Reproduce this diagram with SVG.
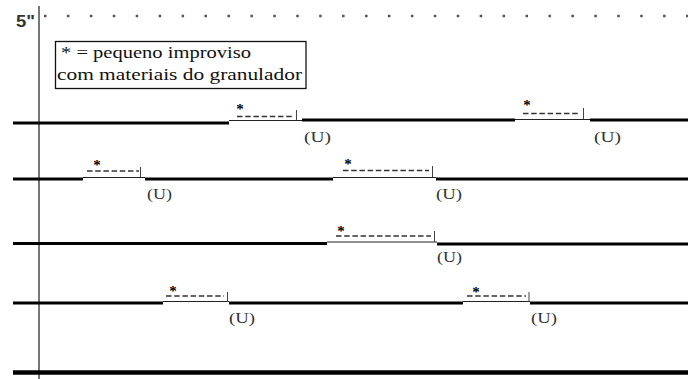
<svg xmlns="http://www.w3.org/2000/svg" width="688" height="379" viewBox="0 0 688 379">
  <style>
    .thick { stroke: #000; stroke-width: 3; fill: none; }
    .thin { stroke: #222; stroke-width: 1; fill: none; }
    .dash { stroke: #333; stroke-width: 1.6; stroke-dasharray: 5.5 2.7; fill: none; }
    .tick { stroke: #444; stroke-width: 1; fill: none; }
    .star { font-family: "Liberation Serif", "Times New Roman", serif; font-size: 15px; font-weight: bold; fill: #000; text-anchor: middle; }
    .u { font-family: "Liberation Serif", "Times New Roman", serif; font-size: 14px; fill: #333; }
    .legend { font-family: "Liberation Serif", "Times New Roman", serif; font-size: 17px; fill: #111; }
  </style>

  <rect width="688" height="379" fill="#fff"/>

  <!-- time marker and dotted time line -->
  <text x="16" y="27" font-family="Liberation Sans, Arial, sans-serif" font-size="17" font-weight="bold" fill="#333" textLength="19" lengthAdjust="spacingAndGlyphs">5"</text>
  <line x1="44" y1="16" x2="688" y2="16" stroke="#555" stroke-width="2.5" stroke-dasharray="2.5 20.43"/>

  <!-- vertical time axis -->
  <line x1="39" y1="6" x2="39" y2="379" stroke="#777" stroke-width="2"/>

  <!-- legend -->
  <g id="legend">
    <rect x="55.5" y="41.5" width="250.5" height="47" fill="none" stroke="#111" stroke-width="1.3"/>
    <text class="legend" x="61" y="58" textLength="190" lengthAdjust="spacingAndGlyphs">* = pequeno improviso</text>
    <text class="legend" x="57" y="80" textLength="245" lengthAdjust="spacingAndGlyphs">com materiais do granulador</text>
  </g>

  <!-- row 1 -->
  <g id="row1">
    <line class="thick" x1="13" y1="123" x2="229" y2="123"/>
    <line class="thin" x1="229" y1="120.5" x2="302" y2="120.5"/>
    <line class="thick" x1="302" y1="120" x2="515" y2="120"/>
    <line class="thin" x1="515" y1="119.5" x2="590" y2="119.5"/>
    <line class="thick" x1="590" y1="120" x2="688" y2="120"/>
    <line class="dash" x1="237" y1="116.5" x2="294" y2="116.5"/>
    <line class="tick" x1="296.5" y1="110" x2="296.5" y2="120"/>
    <text class="star" x="240" y="114">*</text>
    <line class="dash" x1="523" y1="113.5" x2="580" y2="113.5"/>
    <line class="tick" x1="583.5" y1="108" x2="583.5" y2="119"/>
    <text class="star" x="527" y="110">*</text>
    <text class="u" x="304" y="142" textLength="27" lengthAdjust="spacingAndGlyphs">(U)</text>
    <text class="u" x="594" y="142" textLength="27" lengthAdjust="spacingAndGlyphs">(U)</text>
  </g>

  <!-- row 2 -->
  <g id="row2">
    <line class="thick" x1="13" y1="179" x2="83" y2="179"/>
    <line class="thin" x1="83" y1="177.5" x2="145" y2="177.5"/>
    <line class="thick" x1="145" y1="179" x2="333" y2="179"/>
    <line class="thin" x1="333" y1="177.5" x2="436" y2="177.5"/>
    <line class="thick" x1="436" y1="179" x2="688" y2="179"/>
    <line class="dash" x1="87" y1="171" x2="139" y2="171"/>
    <line class="tick" x1="140.5" y1="167" x2="140.5" y2="177"/>
    <text class="star" x="97" y="169.5">*</text>
    <line class="dash" x1="343" y1="170.5" x2="429" y2="170.5"/>
    <line class="tick" x1="432.5" y1="166" x2="432.5" y2="177"/>
    <text class="star" x="348" y="168.5">*</text>
    <text class="u" x="147" y="199" textLength="25" lengthAdjust="spacingAndGlyphs">(U)</text>
    <text class="u" x="436" y="199" textLength="26" lengthAdjust="spacingAndGlyphs">(U)</text>
  </g>

  <!-- row 3 -->
  <g id="row3">
    <line class="thick" x1="13" y1="243.5" x2="327" y2="243.5"/>
    <line class="thin" x1="327" y1="242" x2="437" y2="242"/>
    <line class="thick" x1="437" y1="244" x2="688" y2="244"/>
    <line class="dash" x1="336" y1="236" x2="431" y2="236"/>
    <line class="tick" x1="434.5" y1="231" x2="434.5" y2="242"/>
    <text class="star" x="341" y="236">*</text>
    <text class="u" x="437" y="262" textLength="25" lengthAdjust="spacingAndGlyphs">(U)</text>
  </g>

  <!-- row 4 -->
  <g id="row4">
    <line class="thick" x1="13" y1="303" x2="163" y2="303"/>
    <line class="thin" x1="163" y1="301.5" x2="229" y2="301.5"/>
    <line class="thick" x1="229" y1="303" x2="463" y2="303"/>
    <line class="thin" x1="463" y1="301.5" x2="530" y2="301.5"/>
    <line class="thick" x1="530" y1="303" x2="688" y2="303"/>
    <line class="dash" x1="166" y1="296" x2="224" y2="296"/>
    <line class="tick" x1="227.5" y1="292" x2="227.5" y2="302"/>
    <text class="star" x="173" y="296">*</text>
    <line class="dash" x1="467" y1="296" x2="526" y2="296"/>
    <line class="tick" x1="529" y1="292" x2="529" y2="302"/>
    <text class="star" x="476" y="297">*</text>
    <text class="u" x="229" y="323" textLength="26" lengthAdjust="spacingAndGlyphs">(U)</text>
    <text class="u" x="531" y="323" textLength="26" lengthAdjust="spacingAndGlyphs">(U)</text>
  </g>

  <!-- closing line -->
  <line x1="13" y1="372.5" x2="688" y2="372.5" stroke="#000" stroke-width="4.5"/>
</svg>
